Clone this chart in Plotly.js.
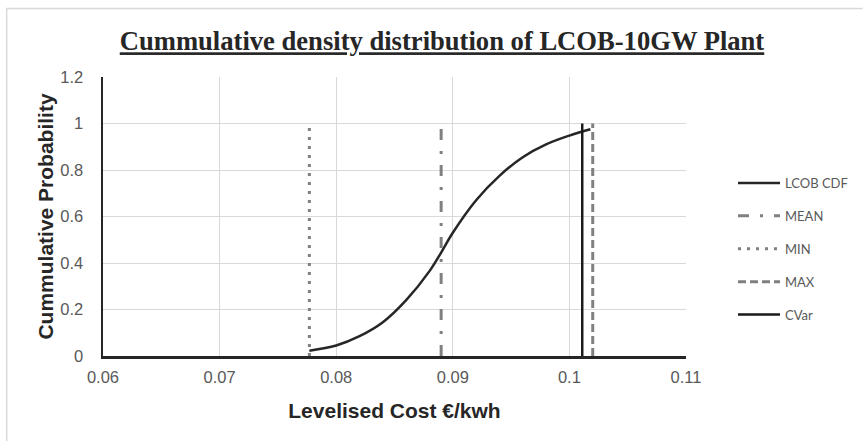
<!DOCTYPE html>
<html>
<head>
<meta charset="utf-8">
<script src="https://cdn.plot.ly/plotly-3.0.1.min.js"></script>
<style>html,body{margin:0;padding:0;background:#fff;}#chart{width:864px;height:441px;}</style>
</head>
<body>
<div id="chart"></div>
<script>
// CDF of LCOB (x: €/kWh, y: cumulative probability)
var cdfX = [0.0777, 0.0800, 0.0820, 0.0840, 0.0860, 0.0880, 0.0890, 0.0900, 0.0920, 0.0940, 0.0960, 0.0980, 0.1000, 0.1018];
var cdfY = [0.023, 0.045, 0.085, 0.145, 0.240, 0.365, 0.445, 0.530, 0.670, 0.775, 0.855, 0.910, 0.948, 0.975];
// reference lines: [x, x] and [ybottom, ytop]
var meanX = [0.0890, 0.0890], meanY = [0, 0.98];
var minX = [0.0777, 0.0777], minY = [0, 1.0];
var maxX = [0.1020, 0.1020], maxY = [0, 1.0];
var cvarX = [0.1011, 0.1011], cvarY = [0, 1.0];
var xTicks = [0.06, 0.07, 0.08, 0.09, 0.1, 0.11];
var xTickText = ['0.06', '0.07', '0.08', '0.09', '0.1', '0.11'];
var yTicks = [0, 0.2, 0.4, 0.6, 0.8, 1, 1.2];
var yTickText = ['0', '0.2', '0.4', '0.6', '0.8', '1', '1.2'];
var seriesNames = ['LCOB CDF', 'MEAN', 'MIN', 'MAX', 'CVar'];

var traces = [
  {x: cdfX, y: cdfY, name: seriesNames[0], mode: 'lines', line: {color: '#262626', width: 2.5, shape: 'spline', smoothing: 1}, legendgroup: 'a'},
  {x: meanX, y: meanY, name: seriesNames[1], mode: 'lines', line: {color: '#808080', width: 3, dash: '11px,11px,3px,11px'}, legendgroup: 'b'},
  {x: minX, y: minY, name: seriesNames[2], mode: 'lines', line: {color: '#808080', width: 3, dash: '3px,6px'}, legendgroup: 'c'},
  {x: maxX, y: maxY, name: seriesNames[3], mode: 'lines', line: {color: '#808080', width: 3, dash: '8px,4px'}, legendgroup: 'd'},
  {x: cvarX, y: cvarY, name: seriesNames[4], mode: 'lines', line: {color: '#1a1a1a', width: 2.5}, legendgroup: 'e'}
];

var W = 864, H = 441, L = 103, R = 177, T = 77, B = 85;
var pw = W - L - R, ph = H - T - B;
function px(x) { return (x - L) / pw; }
function py(y) { return (H - B - y) / ph; }
var sans = 'Arial, "Liberation Sans", sans-serif';

var layout = {
  width: W, height: H,
  margin: {l: L, r: R, t: T, b: B},
  paper_bgcolor: '#ffffff', plot_bgcolor: '#ffffff',
  showlegend: true,
  title: {
    text: '<b><u>Cummulative density distribution of LCOB-10GW Plant</u></b>',
    font: {family: '"Liberation Serif", "Times New Roman", serif', size: 26.6, color: '#262626'},
    x: 442 / W, xanchor: 'center', y: 1 - 41 / H, yanchor: 'middle'
  },
  xaxis: {
    range: [0.06, 0.11], tickvals: xTicks, ticktext: xTickText,
    showgrid: true, gridcolor: '#d9d9d9', gridwidth: 1,
    showline: true, linecolor: '#262626', linewidth: 2.5, mirror: false,
    zeroline: false, ticks: '', ticklabelstandoff: 5,
    tickfont: {family: sans, size: 16.5, color: '#595959'},
    title: {text: '<b>Levelised Cost €/kwh</b>', font: {family: sans, size: 21, color: '#262626'}, standoff: 18}
  },
  yaxis: {
    range: [0, 1.2], tickvals: yTicks, ticktext: yTickText,
    showgrid: true, gridcolor: '#d9d9d9', gridwidth: 1,
    showline: true, linecolor: '#262626', linewidth: 2.5,
    zeroline: false, ticks: '', ticklabelstandoff: 14,
    tickfont: {family: sans, size: 16.5, color: '#595959'},
    title: {text: '<b>Cummulative Probability</b>', font: {family: sans, size: 21, color: '#262626'}, standoff: 1}
  },
  legend: {
    x: px(733), xanchor: 'left', y: py(249), yanchor: 'middle',
    font: {family: 'Lato, "Open Sans", sans-serif', size: 13, color: '#595959'},
    tracegroupgap: 13, itemwidth: 42, bgcolor: 'rgba(0,0,0,0)', borderwidth: 0
  },
  shapes: [
    {type: 'line', xref: 'paper', yref: 'paper', x0: px(6), x1: px(864), y0: py(8.5), y1: py(8.5), line: {color: '#d9d9d9', width: 1.5}},
    {type: 'line', xref: 'paper', yref: 'paper', x0: px(6.5), x1: px(6.5), y0: py(8.5), y1: py(441), line: {color: '#d9d9d9', width: 1.5}}
  ]
};

Plotly.newPlot('chart', traces, layout, {displayModeBar: false, staticPlot: true});
</script>
</body>
</html>
